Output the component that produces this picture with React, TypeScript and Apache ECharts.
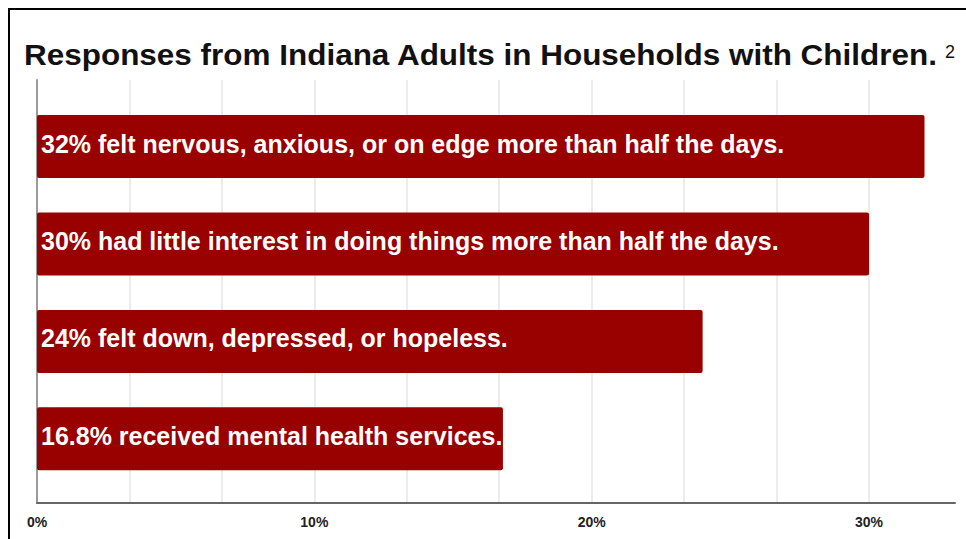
import React, { useEffect, useRef } from "react";
import * as echarts from "echarts";

const titleText = "Responses from Indiana Adults in Households with Children.";
const footnoteMark = "2";
const categories = [
  "32% felt nervous, anxious, or on edge more than half the days.",
  "30% had little interest in doing things more than half the days.",
  "24% felt down, depressed, or hopeless.",
  "16.8% received mental health services.",
];
const values = [32, 30, 24, 16.8];
const xTickLabels = [0, 10, 20, 30];
const axisMin = 0;
const axisMax = 33.1;
const gridStep = 10 / 3;

const FONT = "'Liberation Sans', Arial, Helvetica, sans-serif";

export default function App() {
  const ref = useRef<HTMLDivElement>(null);
  useEffect(() => {
    if (!ref.current) return;
    const chart = echarts.init(ref.current, undefined, { renderer: "svg" });
    const fmt = (v: number) =>
      xTickLabels.some((t) => Math.abs(t - v) < 1e-6) ? `${Math.round(v)}%` : "";
    chart.setOption({
      animation: false,
      backgroundColor: "#ffffff",
      grid: [
        { left: 37, right: 11, top: 80, bottom: 36, containLabel: false },
        { left: 37, right: 11, top: 97.9, bottom: 51.5, containLabel: false },
      ],
      xAxis: [
        {
          type: "value",
          gridIndex: 0,
          min: axisMin,
          max: axisMax,
          interval: gridStep,
          axisLine: { show: true, lineStyle: { color: "#666666", width: 2 } },
          axisTick: { show: false },
          axisLabel: {
            formatter: fmt,
            color: "#222222",
            fontFamily: FONT,
            fontWeight: "bold",
            fontSize: 14,
            margin: 12,
            showMaxLabel: false,
          },
          splitLine: {
            show: true,
            showMinLine: false,
            showMaxLine: false,
            lineStyle: { color: "#e6e6e6", width: 1.5 },
          },
        },
        {
          type: "value",
          gridIndex: 1,
          min: axisMin,
          max: axisMax,
          show: false,
          splitLine: { show: false },
        },
      ],
      yAxis: [
        {
          type: "category",
          gridIndex: 0,
          data: [""],
          axisLine: { show: true, lineStyle: { color: "#9a9a9a", width: 2 } },
          axisTick: { show: false },
          axisLabel: { show: false },
          splitLine: { show: false },
        },
        {
          type: "category",
          gridIndex: 1,
          data: categories,
          inverse: true,
          show: false,
        },
      ],
      series: [
        {
          type: "bar",
          xAxisIndex: 1,
          yAxisIndex: 1,
          data: values,
          barWidth: 63,
          itemStyle: { color: "#990000", borderRadius: 2 },
          label: {
            show: true,
            position: "insideLeft",
            distance: 4,
            offset: [0, -3],
            overflow: "none",
            formatter: (p: any) => categories[p.dataIndex],
            color: "#ffffff",
            fontFamily: FONT,
            fontWeight: "bold",
            fontSize: 25,
          },
        },
      ],
      graphic: [
        {
          type: "rect",
          shape: { x: 9, y: 9, width: 1200, height: 1200 },
          style: { fill: "none", stroke: "#000000", lineWidth: 2 },
          silent: true,
        },
        {
          type: "text",
          x: 24,
          y: 55,
          scaleX: 1.085,
          style: {
            text: titleText,
            fontFamily: FONT,
            fontWeight: "bold",
            fontSize: 29,
            fill: "#111111",
            verticalAlign: "middle",
            align: "left",
          },
        },
        {
          type: "text",
          x: 945,
          y: 51.5,
          style: {
            text: footnoteMark,
            fontFamily: FONT,
            fontSize: 18,
            fill: "#111111",
            verticalAlign: "middle",
            align: "left",
          },
        },
      ],
    });
    return () => chart.dispose();
  }, []);
  return (
    <div
      ref={ref}
      style={{ position: "fixed", left: 0, top: 0, width: 966, height: 539 }}
    />
  );
}
